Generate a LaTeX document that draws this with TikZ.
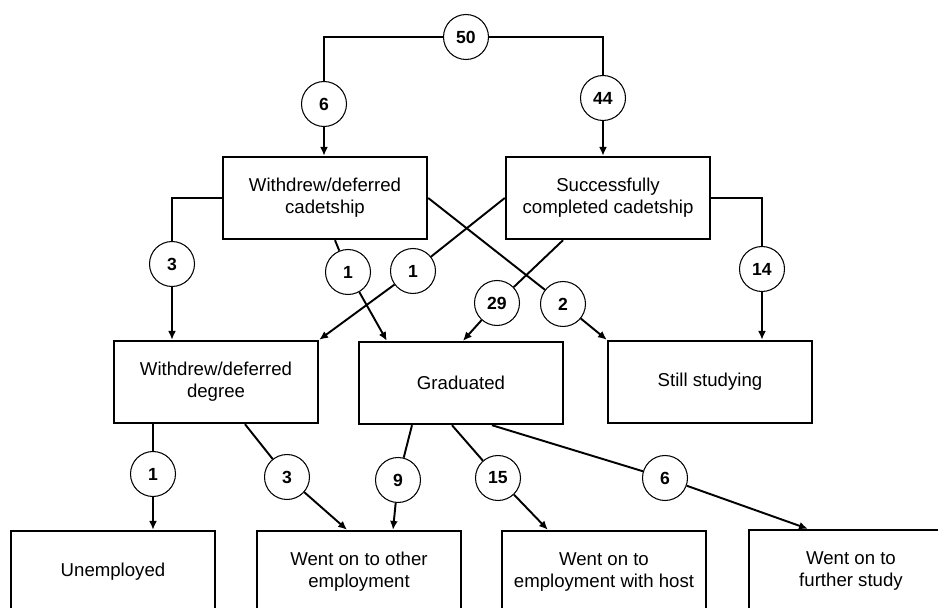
\documentclass[tikz,border=0pt]{standalone}
\usepackage{fontspec}
\setmainfont{Liberation Sans}
\usetikzlibrary{arrows.meta,calc}

\begin{document}
\begin{tikzpicture}[
    x=0.02cm, y=-0.02cm,
    box/.style={rectangle, draw, line width=1.4pt, minimum width=4.08cm,
                minimum height=1.64cm, align=center, font=\fontsize{10.6}{12.5}\selectfont},
    count/.style={circle, draw, line width=0.6pt, fill=white, minimum size=0.9cm,
                inner sep=0pt, font=\fontsize{10}{12}\selectfont\bfseries},
    link/.style={line width=1.1pt},
    arrow/.style={-{Latex[length=5pt,width=4.5pt]}, line width=1.1pt}
]
\useasboundingbox (0,0) rectangle (938,608);
\clip (0,0) rectangle (938,608);

% outcome boxes
\node[box] (cad) at (325,198) {Withdrew/deferred\\cadetship};
\node[box] (suc) at (608,198) {Successfully\\completed cadetship};
\node[box] (wdd) at (216,382) {Withdrew/deferred\\degree};
\node[box] (grad) at (461,383) {Graduated};
\node[box] (still) at (710,382) {Still studying};
\node[box] (unemp) at (113,572) {Unemployed};
\node[box] (other) at (359,572) {Went on to other\\employment};
\node[box] (host) at (604,572) {Went on to\\employment with host};
\node[box] (further) at (851,571) {Went on to\\further study};

% counts
\node[count] (n50) at (466,37) {50};
\node[count] (n6) at (324,104) {6};
\node[count] (n44) at (603,98) {44};
\node[count] (n3a) at (172,264) {3};
\node[count] (n1a) at (348,272) {1};
\node[count] (n1b) at (413,271) {1};
\node[count] (n29) at (497,303) {29};
\node[count] (n2) at (563,304) {2};
\node[count] (n14) at (762,269) {14};
\node[count] (n1c) at (153,474) {1};
\node[count] (n3b) at (287,477) {3};
\node[count] (n9) at (398,480) {9};
\node[count] (n15) at (498,478) {15};
\node[count] (n6b) at (665,478) {6};

% cadetship
\draw[link] (n50) -| (n6);
\draw[arrow] (n6) -- (n6 |- cad.north);
\draw[link] (n50) -| (n44);
\draw[arrow] (n44) -- (n44 |- suc.north);

% withdrew/deferred cadetship
\draw[link] (cad.west) -| (n3a);
\draw[arrow] (n3a) -- (n3a |- wdd.north);
\draw[link] ($(cad.south)+(10,0)$) -- (n1a);
\draw[arrow] (n1a) -- ($(grad.north west)+(29,0)$);
\draw[link] (cad.east) -- (n2);
\draw[arrow] (n2) -- (still.north west);

% successfully completed cadetship
\draw[link] (suc.west) -- (n1b);
\draw[arrow] (n1b) -- (wdd.north east);
\draw[link] ($(suc.south)+(-45,0)$) -- (n29);
\draw[arrow] (n29) -- ($(grad.north)+(2,0)$);
\draw[link] (suc.east) -| (n14);
\draw[arrow] (n14) -- (n14 |- still.north);

% withdrew/deferred degree
\draw[link] (n1c |- wdd.south) -- (n1c);
\draw[arrow] (n1c) -- (n1c |- unemp.north);
\draw[link] ($(wdd.south)+(29,0)$) -- (n3b);
\draw[arrow] (n3b) -- ($(other.north)+(-12,0)$);

% graduated
\draw[link] ($(grad.south)+(-49,0)$) -- (n9);
\draw[arrow] (n9) -- ($(other.north)+(34,0)$);
\draw[link] ($(grad.south)+(-9,0)$) -- (n15);
\draw[arrow] (n15) -- ($(host.north west)+(47,0)$);
\draw[link] ($(grad.south)+(31,0)$) -- (n6b);
\draw[arrow] (n6b) -- ($(further.north west)+(60,0)$);

\end{tikzpicture}
\end{document}
